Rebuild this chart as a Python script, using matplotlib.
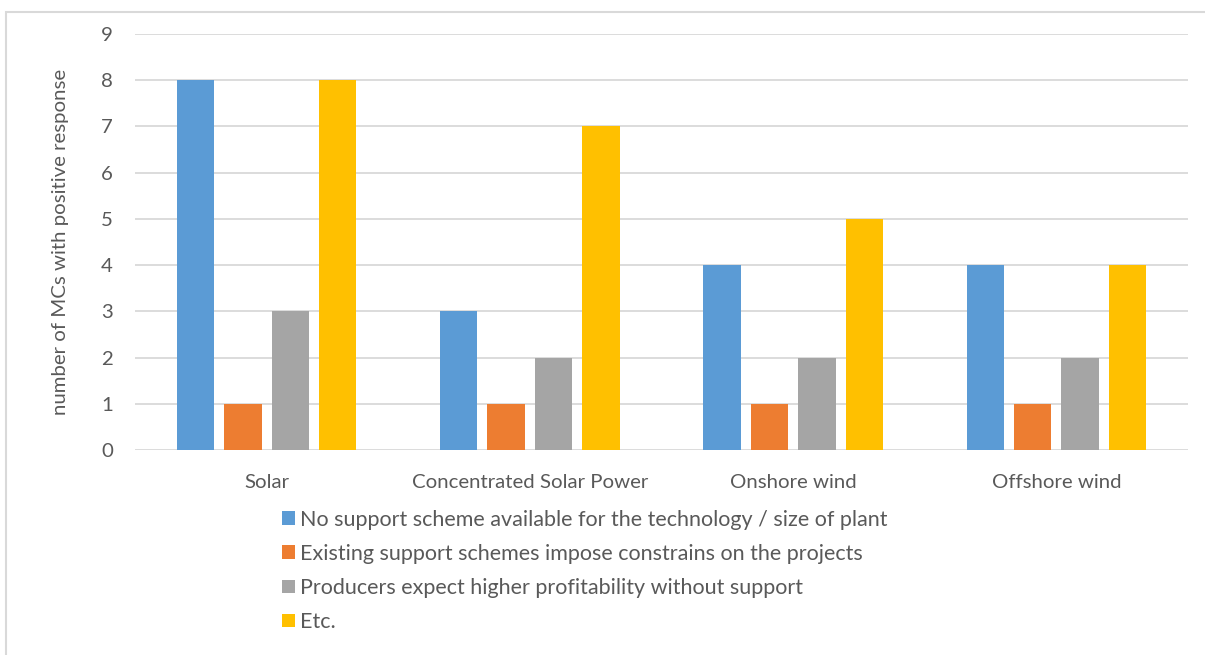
import matplotlib.pyplot as plt
import numpy as np
from matplotlib.patches import Rectangle

categories = ["Solar", "Concentrated Solar Power", "Onshore wind", "Offshore wind"]
series_names = [
    "No support scheme available for the technology / size of plant",
    "Existing support schemes impose constrains on the projects",
    "Producers expect higher profitability without support",
    "Etc.",
]
no_scheme = [8, 3, 4, 4]
constraints = [1, 1, 1, 1]
profitability = [3, 2, 2, 2]
etc = [8, 7, 5, 4]
colors = ["#5B9BD5", "#ED7D31", "#A5A5A5", "#FFC000"]

plt.rcParams['font.family'] = ['Lato', 'DejaVu Sans']
txt = "#595959"

W, H = 1205, 655
fig = plt.figure(figsize=(W / 100, H / 100), dpi=100)
# axes box in pixel terms: x 135..1188, y 34..450
ax = fig.add_axes([135 / W, 1 - 450 / H, (1188 - 135) / W, (450 - 34) / H])

x = np.arange(len(categories))
step = 0.18
width = 0.142
values = [no_scheme, constraints, profitability, etc]
handles = []
for i, (vals, c) in enumerate(zip(values, colors)):
    b = ax.bar(x + (i - 1.5) * step, vals, width, color=c, zorder=3)
    handles.append(b)

ax.set_xlim(-0.5, len(categories) - 0.5)
ax.set_ylim(0, 9)
ax.set_yticks(range(10))
ax.set_xticks(x)
ax.set_xticklabels(categories)
ax.grid(axis='y', color="#D9D9D9", linewidth=1.3, zorder=0)
for s in ax.spines.values():
    s.set_visible(False)
ax.tick_params(length=0, colors=txt, labelsize=14.7)
ax.tick_params(axis='x', pad=17)
ax.tick_params(axis='y', pad=16)
ax.set_ylabel("number of MCs with positive response", color=txt, fontsize=14.7, labelpad=23)

leg = fig.legend(handles, series_names, loc='upper left', bbox_to_anchor=(273 / W, 1 - 501 / H),
                 frameon=False, fontsize=15.5, handlelength=0.6, handleheight=0.6,
                 handletextpad=0.25, labelspacing=0.66, borderaxespad=0)
for t in leg.get_texts():
    t.set_color(txt)

# outer chart border
fig.patches.append(Rectangle((6 / W, -0.1), 1.2, 1 - 12 / H + 0.1, transform=fig.transFigure,
                             fill=False, edgecolor="#D9D9D9", linewidth=1.5))

fig.savefig("out.png", dpi=100)
